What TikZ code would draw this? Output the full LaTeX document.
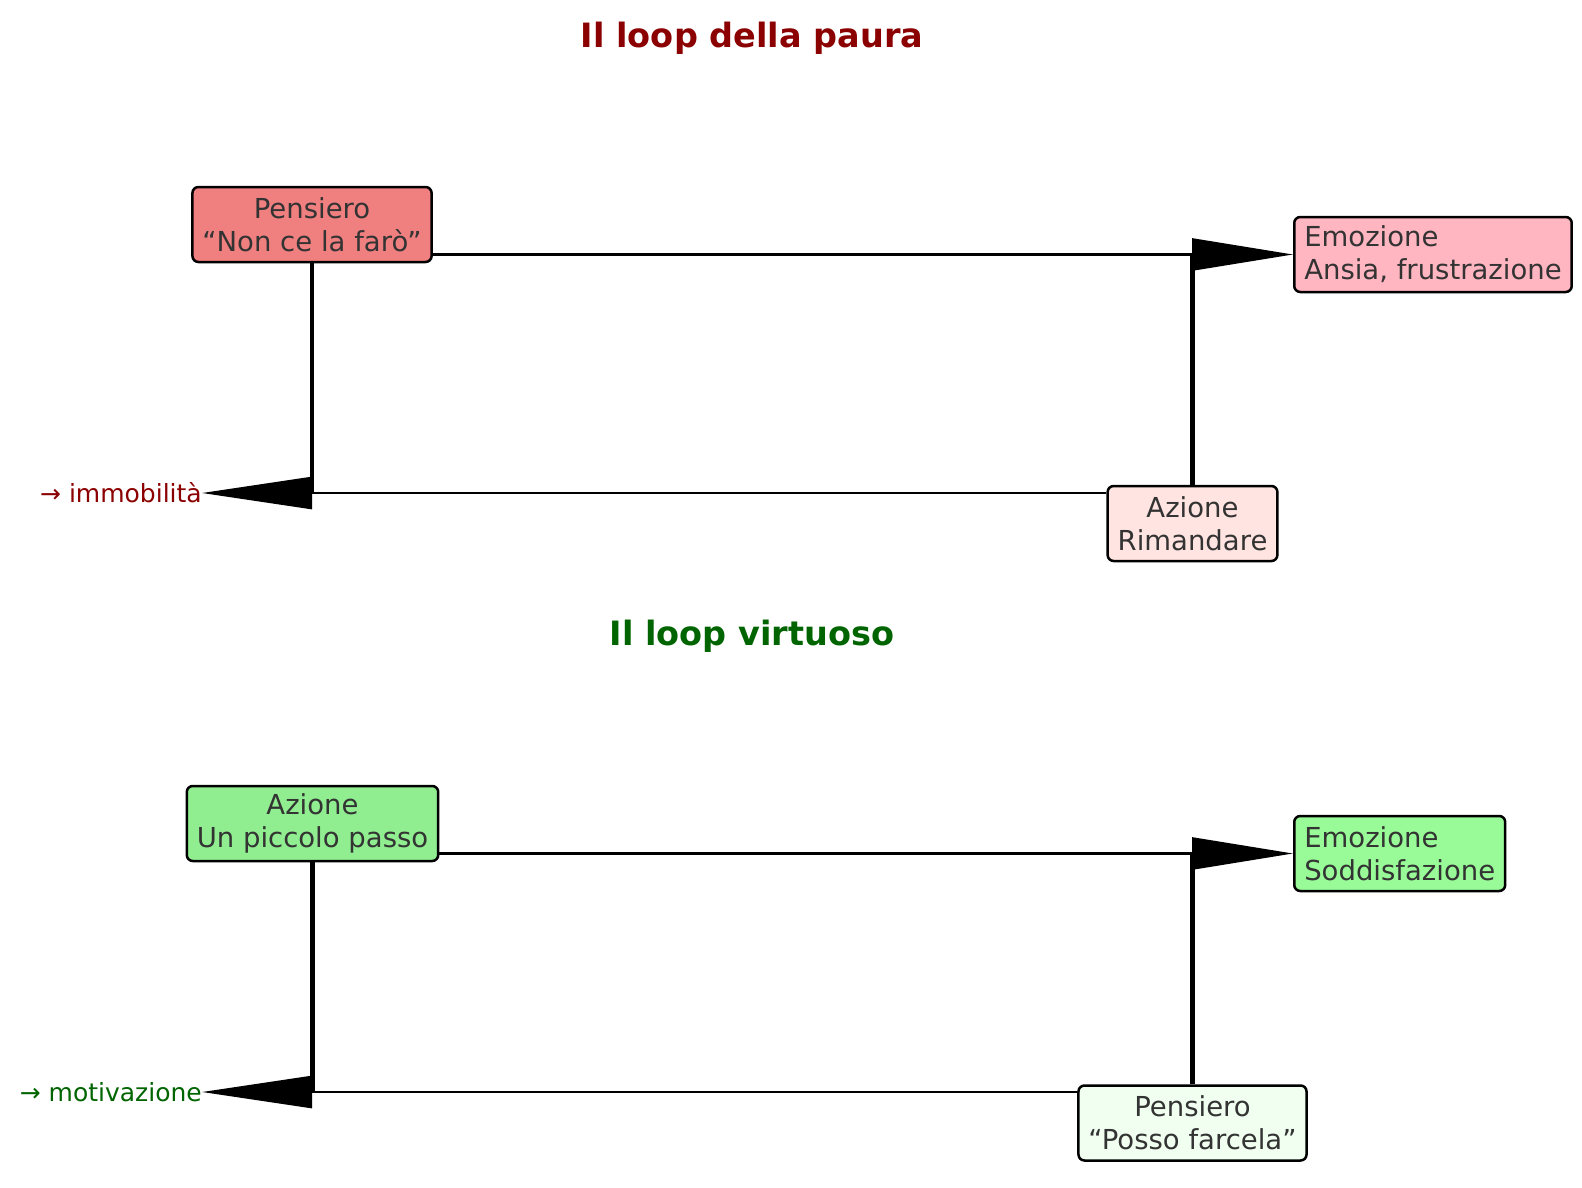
\documentclass[tikz,border=0pt]{standalone}
\usepackage{fontspec}
\setmainfont{DejaVu Sans}
\usetikzlibrary{arrows.meta}
\definecolor{textgray}{HTML}{333333}
\definecolor{darkred}{HTML}{8B0000}
\definecolor{darkgreen}{HTML}{006400}
\definecolor{lightcoral}{HTML}{F08080}
\definecolor{lightpink}{HTML}{FFB6C1}
\definecolor{mistyrose}{HTML}{FFE4E1}
\definecolor{lightgreen}{HTML}{90EE90}
\definecolor{palegreen}{HTML}{98FB98}
\definecolor{honeydew}{HTML}{F0FFF0}
\begin{document}
\begin{tikzpicture}[x=1pt,y=-1pt,
    box/.style={draw=black, line width=2.5pt, rounded corners=6pt, text=textgray,
        font=\fontsize{27.5}{33}\selectfont, align=center, minimum height=75pt, inner xsep=10pt},
    flow/.style={line width=2.7pt, -{Triangle[length=101pt,width=32pt]}},
    back/.style={line width=2.7pt, -{Triangle[length=110pt,width=32pt]}},
    link/.style={line width=4.2pt},
    title/.style={font=\fontsize{33.5}{40}\selectfont\bfseries},
    result/.style={font=\fontsize{25}{30}\selectfont, anchor=east, inner sep=0pt}]
\useasboundingbox (0,0) rectangle (1582,1188);

% loop della paura
\node[title, text=darkred] (fearT) at (752,38) {Il loop della paura};
\node[box, fill=lightcoral] (fearP) at (312,224.5) {Pensiero\\“Non ce la farò”};
\node[box, fill=lightpink, align=left, anchor=west] (fearE) at (1293,254.5) {Emozione\\Ansia, frustrazione};
\node[box, fill=mistyrose] (fearA) at (1192.5,523.5) {Azione\\Rimandare};
\node[result, text=darkred] (fearR) at (202,493) {→ immobilità};

\draw[link] (fearP.south) -- (fearP.south |- fearR.east);
\draw[link] (fearA.north) -- (fearA.north |- fearE.west);
\draw[flow] (fearP.east |- fearE.west) -- (fearE.west);
\draw[back] (fearR.east -| fearA.west) -- (fearR.east);

% loop virtuoso
\node[title, text=darkgreen] (goodT) at (752,636) {Il loop virtuoso};
\node[box, fill=lightgreen] (goodA) at (312.5,823.5) {Azione\\Un piccolo passo};
\node[box, fill=palegreen, align=left, anchor=west] (goodE) at (1293,853.5) {Emozione\\Soddisfazione};
\node[box, fill=honeydew] (goodP) at (1192.5,1123) {Pensiero\\“Posso farcela”};
\node[result, text=darkgreen] (goodR) at (202,1092) {→ motivazione};

\draw[link] (goodA.south) -- (goodA.south |- goodR.east);
\draw[link] (goodP.north) -- (goodP.north |- goodE.west);
\draw[flow] (goodA.east |- goodE.west) -- (goodE.west);
\draw[back] (goodR.east -| goodP.west) -- (goodR.east);
\end{tikzpicture}
\end{document}
